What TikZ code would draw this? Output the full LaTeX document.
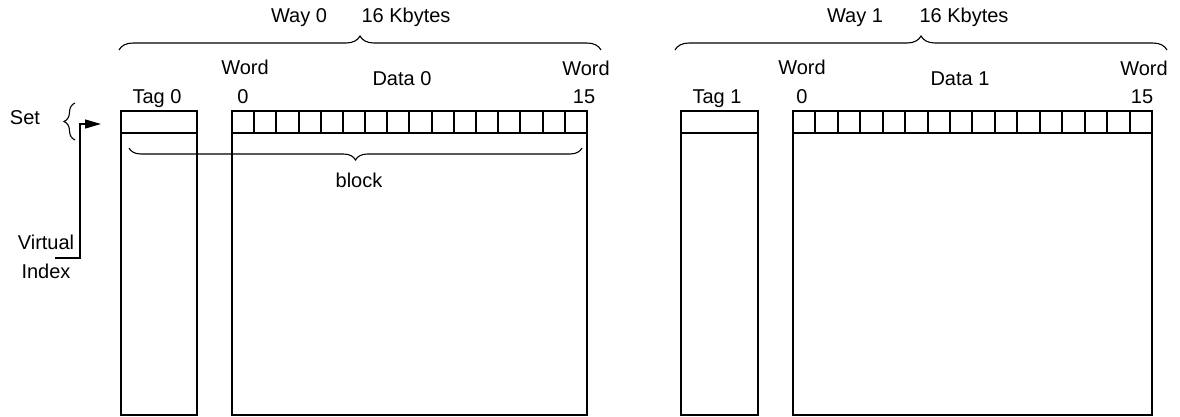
\documentclass[tikz,border=0pt]{standalone}
\usepackage{fontspec}
\setmainfont{Liberation Sans}
\usetikzlibrary{decorations.pathreplacing,arrows.meta}
\begin{document}
\begin{tikzpicture}[x=1pt,y=-1pt,
  box/.style={draw,line width=1.3pt,inner sep=0pt,outer sep=0pt,anchor=north west},
  lbl/.style={font=\fontsize{20}{22}\selectfont,anchor=base,inner sep=0pt},
  brc/.style={decorate,decoration={brace,amplitude=#1},line width=1.1pt},
]
\useasboundingbox (0,0) rectangle (1180,416);

% ---------- Way 0 ----------
\node[box,minimum width=76pt,minimum height=22pt] (tag0row) at (121,111) {};
\node[box,minimum width=76pt,minimum height=282pt] (tag0col) at (121,133) {};
\foreach \a/\b [count=\i from 0] in {232/254,254/276,276/299,299/321,321/343,343/365,365/387,387/409,409/432,432/454,454/476,476/498,498/520,520/543,543/565,565/587}{
  \pgfmathtruncatemacro\w{\b-\a}
  \node[box,minimum width=\w pt,minimum height=22pt] (d0c\i) at (\a,111) {};
}
\node[box,minimum width=355pt,minimum height=282pt] (data0col) at (232,133) {};

\node[lbl] (way0) at (299,22) {Way 0};
\node[lbl] (kb0) at (406,22) {16 Kbytes};
\draw[brc=14] (119,50) -- (601,50);
\node[lbl] (w0a) at (245,74) {Word};
\node[lbl] (w0b) at (243,103) {0};
\node[lbl] (data0) at (402,85) {Data 0};
\node[lbl] (w15a) at (586,75) {Word};
\node[lbl] (w15b) at (584,103) {15};
\node[lbl] (tag0) at (157,103) {Tag 0};
\draw[brc=12] (582,148) -- (129,148);
\node[lbl] (block) at (359,187) {block};

% ---------- Way 1 ----------
\node[box,minimum width=77pt,minimum height=22pt] (tag1row) at (681,111) {};
\node[box,minimum width=77pt,minimum height=282pt] (tag1col) at (681,133) {};
\foreach \a/\b [count=\i from 0] in {793/815,815/838,838/860,860/883,883/905,905/928,928/950,950/972,972/995,995/1017,1017/1040,1040/1062,1062/1085,1085/1107,1107/1130,1130/1152}{
  \pgfmathtruncatemacro\w{\b-\a}
  \node[box,minimum width=\w pt,minimum height=22pt] (d1c\i) at (\a,111) {};
}
\node[box,minimum width=359pt,minimum height=282pt] (data1col) at (793,133) {};

\node[lbl] (way1) at (855,22) {Way 1};
\node[lbl] (kb1) at (964,22) {16 Kbytes};
\draw[brc=14] (675,50) -- (1167,50);
\node[lbl] (w1a) at (802,74) {Word};
\node[lbl] (w1b) at (802,103) {0};
\node[lbl] (data1) at (960,85) {Data 1};
\node[lbl] (w115a) at (1144,75) {Word};
\node[lbl] (w115b) at (1142,103) {15};
\node[lbl] (tag1) at (717,103) {Tag 1};

% ---------- Set / Virtual Index ----------
\node[lbl] (set) at (25,124) {Set};
\draw[brc=11] (75,140) -- (75,103);
\node[lbl] (virtual) at (46,249) {Virtual};
\node[lbl] (index) at (46,278) {Index};
\coordinate (vistart) at (55,258);
\coordinate (setin) at (101,124);
\draw[line width=1.3pt,-{Triangle[length=16pt,width=9pt]}] (vistart) -| (80,124) -- (setin);
\end{tikzpicture}
\end{document}
